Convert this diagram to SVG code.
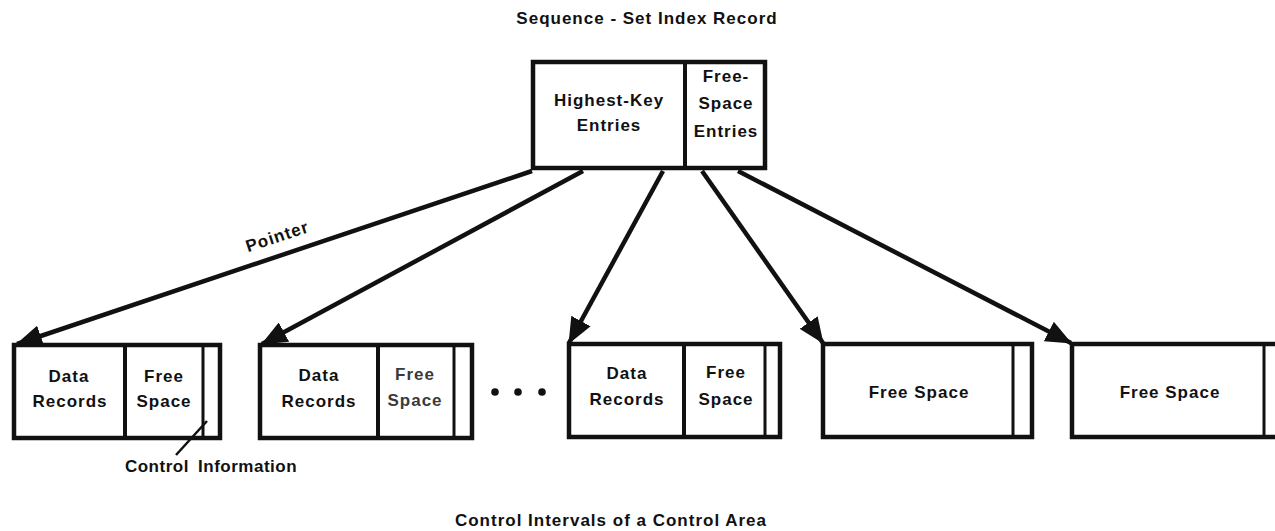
<svg xmlns="http://www.w3.org/2000/svg" width="1275" height="531" viewBox="0 0 1275 531">
<style>
.t{font-family:"Liberation Sans",Arial,sans-serif;font-size:17px;fill:#111;text-anchor:middle;letter-spacing:1px;font-weight:bold}
.box{fill:#fff;stroke:#111;stroke-width:4.5}
.div{stroke:#111;stroke-width:4}
.thin{stroke:#111;stroke-width:3}
.conn{stroke:#111;stroke-width:4.5;fill:none;marker-end:url(#ah)}
</style>
<defs>
<marker id="ah" markerUnits="userSpaceOnUse" markerWidth="26" markerHeight="22" refX="25" refY="11" orient="auto">
<path d="M0,0 L26,11 L0,22 z" fill="#111"/>
</marker>
</defs>
<rect width="1275" height="531" fill="#fff"/>
<text class="t" x="647" y="24">Sequence - Set Index Record</text>

<g id="index-record">
<rect class="box" x="533" y="62" width="232" height="106"/>
<line class="div" x1="685" y1="62" x2="685" y2="168"/>
<text class="t" x="609" y="106">Highest-Key</text>
<text class="t" x="609" y="131">Entries</text>
<text class="t" x="726" y="82">Free-</text>
<text class="t" x="726" y="109">Space</text>
<text class="t" x="726" y="137">Entries</text>
</g>

<g id="connectors">
<line class="conn" x1="532" y1="171" x2="17" y2="344"/>
<line class="conn" x1="583" y1="171" x2="262" y2="344"/>
<line class="conn" x1="663" y1="171" x2="569" y2="343"/>
<line class="conn" x1="702" y1="171" x2="823" y2="343"/>
<line class="conn" x1="738" y1="171" x2="1071" y2="343"/>
<text class="t" x="279" y="242" transform="rotate(-18.4 279 242)">Pointer</text>
</g>

<g id="ci1">
<rect class="box" x="14" y="345" width="206" height="93"/>
<line class="div" x1="125" y1="345" x2="125" y2="438"/>
<line class="thin" x1="203" y1="345" x2="203" y2="438"/>
<text class="t" x="69" y="382">Data</text>
<text class="t" x="70" y="407">Records</text>
<text class="t" x="164" y="382">Free</text>
<text class="t" x="164" y="407">Space</text>
</g>

<g id="ci2">
<rect class="box" x="260" y="345" width="212" height="93"/>
<line class="div" x1="378" y1="345" x2="378" y2="438"/>
<line class="thin" x1="454" y1="345" x2="454" y2="438"/>
<text class="t" x="319" y="381">Data</text>
<text class="t" x="319" y="407">Records</text>
<text class="t" x="415" y="380" style="fill:#3a3a3a">Free</text>
<text class="t" x="415" y="406" style="fill:#3a3a3a">Space</text>
</g>

<g id="ellipsis" fill="#111">
<circle cx="495" cy="392" r="3.8"/>
<circle cx="518" cy="392" r="3.8"/>
<circle cx="542" cy="392" r="3.8"/>
</g>

<g id="ci3">
<rect class="box" x="569" y="344" width="211" height="93"/>
<line class="div" x1="684" y1="344" x2="684" y2="437"/>
<line class="thin" x1="765" y1="344" x2="765" y2="437"/>
<text class="t" x="627" y="379">Data</text>
<text class="t" x="627" y="405">Records</text>
<text class="t" x="726" y="378">Free</text>
<text class="t" x="726" y="405">Space</text>
</g>

<g id="ci4">
<rect class="box" x="823" y="344" width="209" height="93"/>
<line class="thin" x1="1013" y1="344" x2="1013" y2="437"/>
<text class="t" x="919" y="398">Free Space</text>
</g>

<g id="ci5">
<rect class="box" x="1072" y="344" width="212" height="93"/>
<line class="thin" x1="1264" y1="344" x2="1264" y2="437"/>
<text class="t" x="1170" y="398">Free Space</text>
</g>

<g id="control-info">
<line x1="207" y1="421" x2="176" y2="455" stroke="#111" stroke-width="2.5"/>
<text class="t" x="211" y="472" style="word-spacing:4px;letter-spacing:0.5px">Control Information</text>
</g>

<text class="t" x="611" y="526">Control Intervals of a Control Area</text>
</svg>
